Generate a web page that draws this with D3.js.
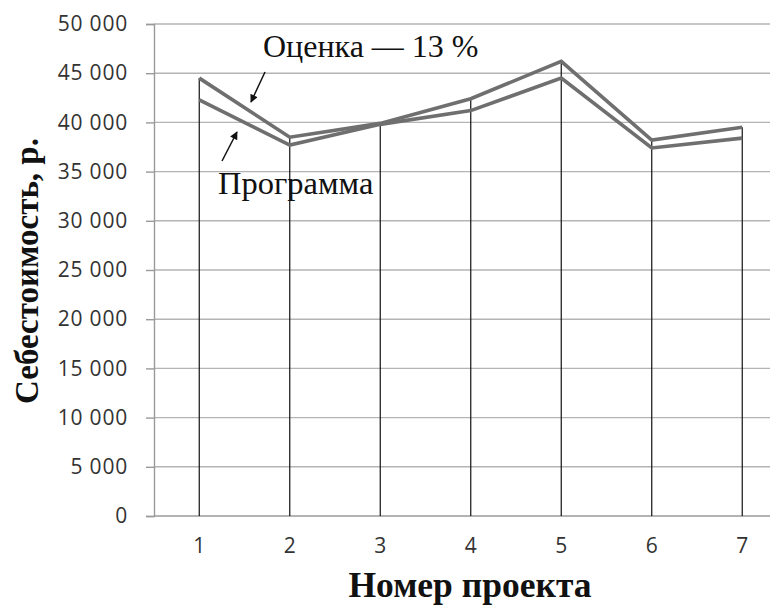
<!DOCTYPE html>
<html><head><meta charset="utf-8">
<script src="https://cdn.jsdelivr.net/npm/d3@7/dist/d3.min.js"></script>
<style>body{margin:0;background:#fff;}svg{display:block;}</style>
</head><body>
<svg id="c" width="770" height="608"></svg>
<script>
const categories = [1, 2, 3, 4, 5, 6, 7];
const estimate = [44500, 38500, 39900, 42400, 46200, 38200, 39500]; // Оценка — 13 %
const program  = [42300, 37700, 39800, 41200, 44500, 37400, 38400]; // Программа
const yTicks = [0, 5000, 10000, 15000, 20000, 25000, 30000, 35000, 40000, 45000, 50000];

const svg = d3.select("#c");
const plotLeft = 154, plotTop = 24, plotBottom = 516, band = 90.5;
const x = d3.scaleBand().domain(categories).range([plotLeft, plotLeft + band * categories.length]).paddingInner(0).paddingOuter(0);
const xc = d => x(d) + x.bandwidth() / 2;
const y = d3.scaleLinear().domain([0, 50000]).range([plotBottom, plotTop]);
const rightEdge = 770;
const serif = "'Liberation Serif', 'DejaVu Serif', serif";

const fmt = v => v === 0 ? "0" : d3.format(",")(v).replace(/,/g, " ");

// gridlines
svg.append("g").selectAll("line").data(yTicks.filter(v => v > 0)).join("line")
  .attr("x1", plotLeft).attr("x2", rightEdge)
  .attr("y1", d => y(d)).attr("y2", d => y(d))
  .attr("stroke", "#b4b4b4").attr("stroke-width", 1.4);

// y axis
const yAxis = d3.axisLeft(y).tickValues(yTicks).tickSize(8).tickFormat(fmt).tickPadding(18);
const gy = svg.append("g").attr("transform", `translate(${plotLeft},0)`).call(yAxis);
gy.select(".domain").attr("stroke", "#9a9a9a").attr("stroke-width", 1.4);
gy.selectAll(".tick line").attr("stroke", "#9a9a9a").attr("stroke-width", 1.4);
gy.selectAll(".tick text").attr("font-family", "'Open Sans', sans-serif").attr("font-size", 21)
  .attr("letter-spacing", 0.8).attr("fill", "#333");

// x axis
const xAxis = d3.axisBottom(x).tickSize(0).tickPadding(22);
const gx = svg.append("g").attr("transform", `translate(0,${plotBottom})`).call(xAxis);
gx.select(".domain").remove();
gx.append("line").attr("x1", plotLeft).attr("x2", rightEdge).attr("y1", 0).attr("y2", 0)
  .attr("stroke", "#9a9a9a").attr("stroke-width", 1.4);
gx.selectAll(".tick text").attr("font-family", "'Open Sans', sans-serif").attr("font-size", 21).attr("fill", "#333");

// drop lines
svg.append("g").selectAll("line").data(categories).join("line")
  .attr("x1", d => xc(d)).attr("x2", d => xc(d))
  .attr("y1", (d, i) => y(Math.max(estimate[i], program[i]))).attr("y2", plotBottom)
  .attr("stroke", "#111").attr("stroke-width", 1.2);

// series lines
const line = d3.line().x((d, i) => xc(categories[i])).y(d => y(d));
[program, estimate].forEach(s => {
  svg.append("path").datum(s).attr("d", line).attr("fill", "none")
    .attr("stroke", "#6f6f6f").attr("stroke-width", 3.6).attr("stroke-linejoin", "miter");
});

// annotations
const defs = svg.append("defs");
defs.append("marker").attr("id", "ah").attr("viewBox", "0 0 10 10").attr("refX", 9).attr("refY", 5)
  .attr("markerWidth", 10).attr("markerHeight", 8).attr("markerUnits", "userSpaceOnUse").attr("orient", "auto")
  .append("path").attr("d", "M0,0 L10,5 L0,10 z").attr("fill", "#111");

svg.append("text").attr("x", 263).attr("y", 57).text("Оценка — 13 %")
  .style("font-family", serif).attr("font-size", 32).attr("fill", "#111");
svg.append("text").attr("x", 218).attr("y", 194).text("Программа")
  .style("font-family", serif).attr("font-size", 32.5).attr("fill", "#111");

svg.append("line").attr("x1", 265).attr("y1", 72).attr("x2", 251).attr("y2", 102)
  .attr("stroke", "#111").attr("stroke-width", 1.5).attr("marker-end", "url(#ah)");
svg.append("line").attr("x1", 222).attr("y1", 161).attr("x2", 237).attr("y2", 132)
  .attr("stroke", "#111").attr("stroke-width", 1.5).attr("marker-end", "url(#ah)");

// axis titles
svg.append("text").attr("transform", "translate(38,271) rotate(-90)").attr("text-anchor", "middle")
  .text("Себестоимость, р.").style("font-family", serif)
  .attr("font-weight", "bold").attr("font-size", 33).attr("fill", "#111");
svg.append("text").attr("x", 470).attr("y", 597).attr("text-anchor", "middle")
  .text("Номер проекта").style("font-family", serif)
  .attr("font-weight", "bold").attr("font-size", 35.5).attr("fill", "#111");
</script>
</body></html>
